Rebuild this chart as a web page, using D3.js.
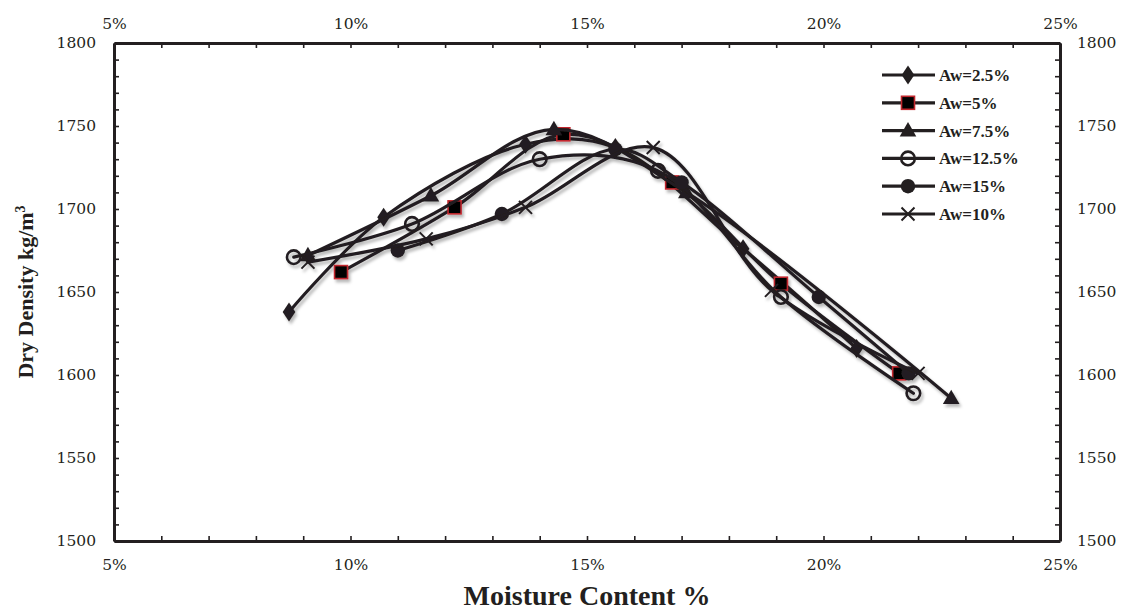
<!DOCTYPE html>
<html>
<head>
<meta charset="utf-8">
<script src="https://cdn.jsdelivr.net/npm/d3@7"></script>
<style>
  html, body { margin: 0; padding: 0; background: #fff; }
  svg { display: block; }
</style>
</head>
<body>
<svg id="chart" width="1128" height="612"></svg>
<script>
// Compaction curves: moisture content (%) vs dry density (kg/m³)
const seriesNames = ["Aw=2.5%", "Aw=5%", "Aw=7.5%", "Aw=12.5%", "Aw=15%", "Aw=10%"];
const markerKinds = ["diamond", "square", "triangle", "openCircle", "circle", "cross"];

const aw25  = [[8.7, 1638], [10.7, 1695], [13.7, 1739], [15.6, 1737], [18.3, 1676], [20.7, 1616]];
const aw5   = [[9.8, 1662], [12.2, 1701], [14.5, 1745], [16.8, 1716], [19.1, 1655], [21.6, 1601]];
const aw75  = [[9.1, 1672], [11.7, 1708], [14.3, 1748], [17.1, 1710], [22.7, 1586]];
const aw125 = [[8.8, 1671], [11.3, 1691], [14.0, 1730], [16.5, 1723], [19.1, 1647], [21.9, 1589]];
const aw15  = [[11.0, 1675], [13.2, 1697], [15.6, 1736], [17.0, 1716], [19.9, 1647], [21.8, 1601]];
const aw10  = [[9.1, 1668], [11.6, 1682], [13.7, 1701], [16.4, 1737], [18.9, 1651], [22.0, 1601]];
const seriesData = [aw25, aw5, aw75, aw125, aw15, aw10];

const xTicks = d3.range(5, 26, 1);        // every 1 %, labelled every 5 %
const yTicks = d3.range(1500, 1801, 10);  // every 10, labelled every 50

const svg = d3.select("#chart");
const ink = "#231f20";
const plotL = 114, plotR = 1060, plotT = 43, plotB = 541;

const x = d3.scaleLinear().domain([5, 25]).range([plotL, plotR]);
const y = d3.scaleLinear().domain([1500, 1800]).range([plotB, plotT]);

const defs = svg.append("defs");
const shadow = defs.append("filter").attr("id", "shade")
  .attr("x", "-10%").attr("y", "-10%").attr("width", "130%").attr("height", "140%");
shadow.append("feDropShadow").attr("dx", 2).attr("dy", 3).attr("stdDeviation", 1.8)
  .attr("flood-color", "#000").attr("flood-opacity", 0.28);

const tickFont = "'DejaVu Serif', serif";
const serif = "'Liberation Serif', 'Times New Roman', serif";
const xFmt = d => (d % 5 === 0 ? d + "%" : "");
const yFmt = d => (d % 50 === 0 ? String(d) : "");

function styleAxis(g) {
  g.select(".domain").attr("stroke", ink).attr("stroke-width", 3);
  g.selectAll(".tick line").attr("stroke", ink).attr("stroke-width", 1.6);
  g.selectAll(".tick text").attr("fill", ink).attr("font-family", tickFont).attr("font-size", 15.5);
}

svg.append("g").attr("transform", `translate(0,${plotB})`)
  .call(d3.axisBottom(x).tickValues(xTicks).tickFormat(xFmt).tickSize(-5).tickSizeOuter(0).tickPadding(18))
  .call(styleAxis);
svg.append("g").attr("transform", `translate(0,${plotT})`)
  .call(d3.axisTop(x).tickValues(xTicks).tickFormat(xFmt).tickSize(-5).tickSizeOuter(0).tickPadding(14))
  .call(styleAxis);
svg.append("g").attr("transform", `translate(${plotL},0)`)
  .call(d3.axisLeft(y).tickValues(yTicks).tickFormat(yFmt).tickSize(-5).tickSizeOuter(0).tickPadding(18))
  .call(styleAxis);
svg.append("g").attr("transform", `translate(${plotR},0)`)
  .call(d3.axisRight(y).tickValues(yTicks).tickFormat(yFmt).tickSize(-5).tickSizeOuter(0).tickPadding(17))
  .call(styleAxis);

// Axis titles
svg.append("text")
  .attr("x", 587).attr("y", 605)
  .attr("text-anchor", "middle")
  .attr("font-family", serif).attr("font-weight", "bold").attr("font-size", 28).attr("fill", ink)
  .text("Moisture Content %");

const yTitle = svg.append("text")
  .attr("transform", `translate(33,${(plotT + plotB) / 2}) rotate(-90)`)
  .attr("text-anchor", "middle")
  .attr("font-family", serif).attr("font-weight", "bold").attr("font-size", 22).attr("fill", ink);
yTitle.append("tspan").text("Dry Density kg/m");
yTitle.append("tspan").attr("dy", -8).attr("font-size", 14).text("3");

// Marker drawing
function drawMarker(g, kind, cx, cy) {
  const sym = (type, size) => d3.symbol().type(type).size(size)();
  if (kind === "diamond") {
    g.append("path").attr("d", sym(d3.symbolDiamond, 105)).attr("transform", `translate(${cx},${cy}) scale(1.15,1)`).attr("fill", ink);
  } else if (kind === "square") {
    g.append("rect").attr("x", cx - 6.5).attr("y", cy - 6.5).attr("width", 13).attr("height", 13)
      .attr("fill", "#000").attr("stroke", "#c1272d").attr("stroke-width", 1.6);
  } else if (kind === "triangle") {
    g.append("path").attr("d", sym(d3.symbolTriangle, 120)).attr("transform", `translate(${cx},${cy + 1})`).attr("fill", ink);
  } else if (kind === "openCircle") {
    g.append("circle").attr("cx", cx).attr("cy", cy).attr("r", 6.8)
      .attr("fill", "none").attr("stroke", ink).attr("stroke-width", 2.6);
  } else if (kind === "circle") {
    g.append("circle").attr("cx", cx).attr("cy", cy).attr("r", 7.2).attr("fill", ink);
  } else if (kind === "cross") {
    const s = 6.5;
    g.append("path").attr("d", `M${cx - s},${cy - s}L${cx + s},${cy + s}M${cx - s},${cy + s}L${cx + s},${cy - s}`)
      .attr("stroke", ink).attr("stroke-width", 2);
  }
}

const line = d3.line()
  .x(d => x(d[0])).y(d => y(d[1]))
  .curve(d3.curveCatmullRom.alpha(0.5));

const plot = svg.append("g").attr("filter", "url(#shade)");
seriesData.forEach((data, i) => {
  const g = plot.append("g");
  g.append("path").datum(data).attr("d", line)
    .attr("fill", "none").attr("stroke", ink).attr("stroke-width", 3.2)
    .attr("stroke-linejoin", "round").attr("stroke-linecap", "round");
  data.forEach(d => drawMarker(g, markerKinds[i], x(d[0]), y(d[1])));
});

// Legend
const legend = svg.append("g");
seriesNames.forEach((name, i) => {
  const ly = 75 + i * 27.8;
  legend.append("line").attr("x1", 882).attr("x2", 935).attr("y1", ly).attr("y2", ly)
    .attr("stroke", ink).attr("stroke-width", 3.2);
  drawMarker(legend, markerKinds[i], 908, ly);
  legend.append("text").attr("x", 939).attr("y", ly + 6)
    .attr("font-family", serif).attr("font-weight", "bold").attr("font-size", 17).attr("fill", ink)
    .text(name);
});
</script>
</body>
</html>
